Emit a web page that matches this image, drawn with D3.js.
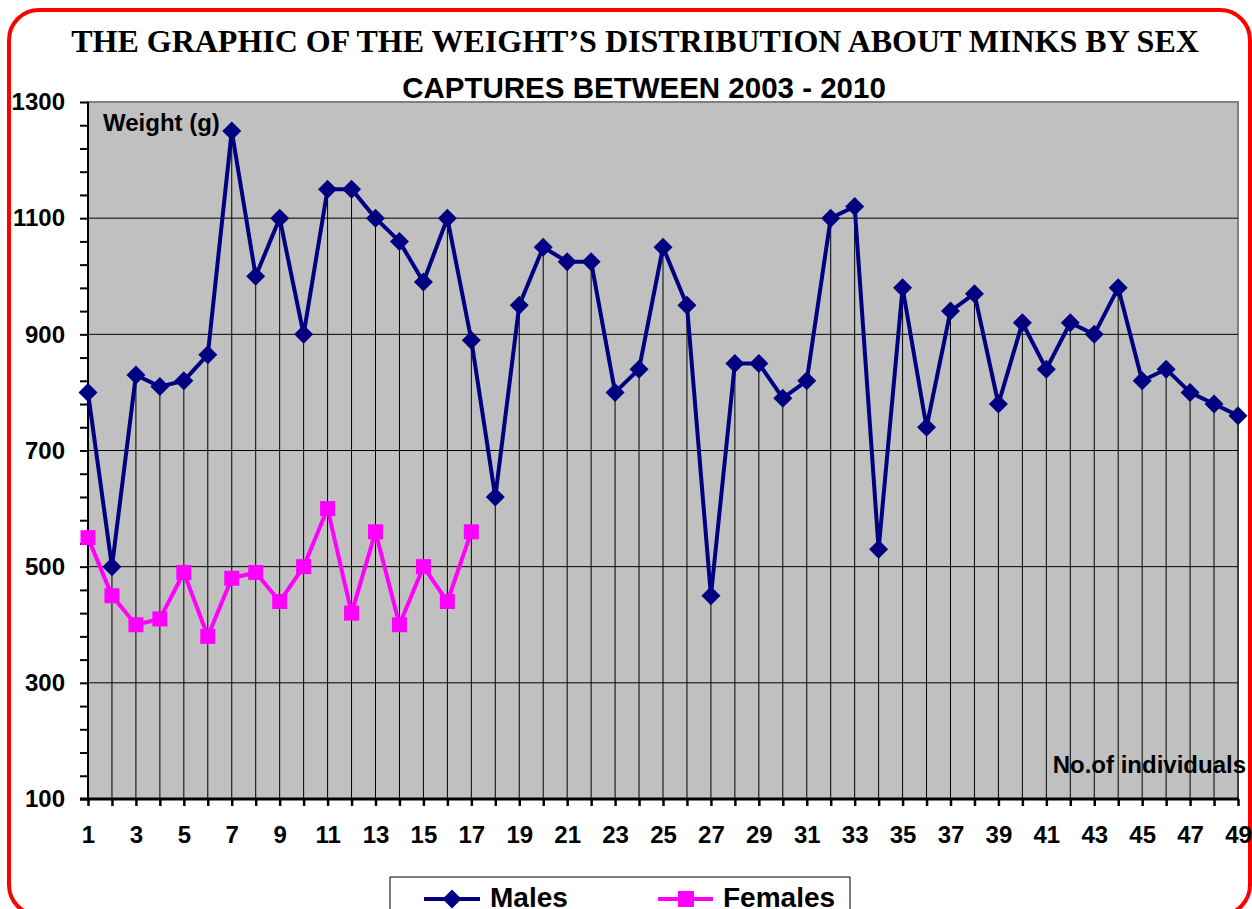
<!DOCTYPE html>
<html>
<head>
<meta charset="utf-8">
<script src="https://cdn.jsdelivr.net/npm/d3@7"></script>
<style>
  body { margin: 0; background: #fff; }
  svg text { font-family: "Liberation Sans", Arial, sans-serif; font-weight: bold; }
</style>
</head>
<body>
<div id="chart"></div>
<script>
// individuals on the x axis
const individuals = [1, 2, 3, 4, 5, 6, 7, 8, 9, 10, 11, 12, 13, 14, 15, 16, 17, 18, 19, 20,
  21, 22, 23, 24, 25, 26, 27, 28, 29, 30, 31, 32, 33, 34, 35, 36, 37, 38, 39, 40,
  41, 42, 43, 44, 45, 46, 47, 48, 49]

// weights (g)
const maleWeights = [800, 500, 830, 810, 820, 865, 1250, 1000, 1100, 900, 1150, 1150, 1100, 1060, 990, 1100, 890,
  620, 950, 1050, 1025, 1025, 800, 840, 1050, 950, 450, 850, 850, 790, 820, 1100, 1120,
  530, 980, 740, 940, 970, 780, 920, 840, 920, 900, 980, 820, 840, 800, 780, 760]
const femaleWeights = [550, 450, 400, 410, 490, 380, 480, 490, 440, 500, 600, 420, 560, 400, 500, 440, 560]

// y axis: labelled ticks and small ticks
const yLabels = [100, 300, 500, 700, 900, 1100, 1300]
const yMinor = [100, 140, 180, 220, 260, 300, 340, 380, 420, 460, 500, 540, 580, 620, 660, 700, 740, 780,
  820, 860, 900, 940, 980, 1020, 1060, 1100, 1140, 1180, 1220, 1260, 1300]
const gridValues = [300, 500, 700, 900, 1100]

const width = 1252
const height = 909

const svg = d3.select("#chart")
  .append("svg")
  .attr("width", width)
  .attr("height", height)

// red rounded frame
svg.append("rect")
  .attr("x", 9).attr("y", 10)
  .attr("width", 1241).attr("height", 905)
  .attr("rx", 30)
  .attr("fill", "#fff")
  .attr("stroke", "#ff0000")
  .attr("stroke-width", 4)

// titles
svg.append("text")
  .attr("x", 635).attr("y", 52)
  .attr("text-anchor", "middle")
  .style("font-family", "'Liberation Serif', 'Times New Roman', serif")
  .style("font-size", "32px")
  .text("THE GRAPHIC OF THE WEIGHT\u2019S DISTRIBUTION ABOUT MINKS BY SEX")

svg.append("text")
  .attr("x", 644).attr("y", 98)
  .attr("text-anchor", "middle")
  .style("font-size", "29.5px")
  .text("CAPTURES BETWEEN 2003 - 2010")

// scales
const x = d3.scaleLinear().domain([1, 49]).range([88, 1238])
const y = d3.scaleLinear().domain([100, 1300]).range([799, 102])

// plot area
svg.append("rect")
  .attr("x", x(1)).attr("y", y(1300))
  .attr("width", x(49) - x(1)).attr("height", y(100) - y(1300))
  .attr("fill", "#c0c0c0")
  .attr("stroke", "#808080")
  .attr("stroke-width", 2)

// horizontal grid lines
svg.append("g")
  .selectAll("line")
  .data(gridValues)
  .join("line")
  .attr("x1", x(1)).attr("x2", x(49))
  .attr("y1", d => y(d)).attr("y2", d => y(d))
  .attr("stroke", "#000")
  .attr("stroke-width", 1)

// drop lines from the males down to the axis
svg.append("g")
  .selectAll("line")
  .data(individuals)
  .join("line")
  .attr("x1", d => x(d)).attr("x2", d => x(d))
  .attr("y1", (d, i) => y(maleWeights[i])).attr("y2", y(100))
  .attr("stroke", "#000")
  .attr("stroke-width", 1)

// y axis
const yAxis = svg.append("g")
  .attr("transform", `translate(${x(1)},0)`)
  .call(d3.axisLeft(y)
    .tickValues(yMinor)
    .tickSize(8)
    .tickPadding(15)
    .tickFormat(d => yLabels.includes(d) ? d : ""))
yAxis.select(".domain").remove()
yAxis.selectAll(".tick line").attr("stroke", "#000").attr("stroke-width", 2)
yAxis.selectAll("text").style("font-size", "24px").attr("fill", "#000").attr("font-family", null)

// x axis
const xAxis = svg.append("g")
  .attr("transform", `translate(0,${y(100)})`)
  .call(d3.axisBottom(x)
    .tickValues(individuals)
    .tickSize(7)
    .tickPadding(20)
    .tickFormat(d => d % 2 ? d : ""))
xAxis.select(".domain").remove()
xAxis.selectAll(".tick line").attr("stroke", "#000").attr("stroke-width", 2.5)
xAxis.selectAll("text").style("font-size", "24px").attr("fill", "#000").attr("font-family", null)

// axis lines
svg.append("line")
  .attr("x1", x(1)).attr("x2", x(1))
  .attr("y1", y(1300)).attr("y2", y(100))
  .attr("stroke", "#000").attr("stroke-width", 2)
svg.append("line")
  .attr("x1", x(1) - 8).attr("x2", x(49) + 1)
  .attr("y1", y(100)).attr("y2", y(100))
  .attr("stroke", "#000").attr("stroke-width", 3)

// axis titles inside the plot
svg.append("text")
  .attr("x", 103).attr("y", 131)
  .style("font-size", "24px")
  .text("Weight (g)")

svg.append("text")
  .attr("x", 1246).attr("y", 773)
  .attr("text-anchor", "end")
  .style("font-size", "24px")
  .text("No.of individuals")

// series lines
const line = d3.line()
  .x((d, i) => x(individuals[i]))
  .y(d => y(d))

svg.append("path")
  .datum(maleWeights)
  .attr("d", line)
  .attr("fill", "none")
  .attr("stroke", "#000080")
  .attr("stroke-width", 4)
  .attr("stroke-linejoin", "round")

svg.append("path")
  .datum(femaleWeights)
  .attr("d", line)
  .attr("fill", "none")
  .attr("stroke", "#ff00ff")
  .attr("stroke-width", 4)
  .attr("stroke-linejoin", "round")

// markers
const diamond = "M0,-9.5L9.5,0L0,9.5L-9.5,0Z"

svg.append("g")
  .selectAll("path")
  .data(maleWeights)
  .join("path")
  .attr("transform", (d, i) => `translate(${x(individuals[i])},${y(d)})`)
  .attr("d", diamond)
  .attr("fill", "#000080")

svg.append("g")
  .selectAll("rect")
  .data(femaleWeights)
  .join("rect")
  .attr("x", (d, i) => x(individuals[i]) - 7.5)
  .attr("y", d => y(d) - 7.5)
  .attr("width", 15).attr("height", 15)
  .attr("fill", "#ff00ff")

// legend (cut by the bottom edge, as in the original)
const legend = svg.append("g")
legend.append("rect")
  .attr("x", 390).attr("y", 877)
  .attr("width", 460).attr("height", 60)
  .attr("fill", "#fff")
  .attr("stroke", "#000")
  .attr("stroke-width", 1)

legend.append("line")
  .attr("x1", 424).attr("x2", 480)
  .attr("y1", 899).attr("y2", 899)
  .attr("stroke", "#000080").attr("stroke-width", 4)
legend.append("path")
  .attr("transform", "translate(452,899)")
  .attr("d", diamond)
  .attr("fill", "#000080")
legend.append("text")
  .attr("x", 490).attr("y", 907)
  .style("font-size", "28px")
  .text("Males")

legend.append("line")
  .attr("x1", 658).attr("x2", 713)
  .attr("y1", 899).attr("y2", 899)
  .attr("stroke", "#ff00ff").attr("stroke-width", 4)
legend.append("rect")
  .attr("x", 678).attr("y", 891)
  .attr("width", 16).attr("height", 16)
  .attr("fill", "#ff00ff")
legend.append("text")
  .attr("x", 723).attr("y", 907)
  .style("font-size", "28px")
  .text("Females")
</script>
</body>
</html>
